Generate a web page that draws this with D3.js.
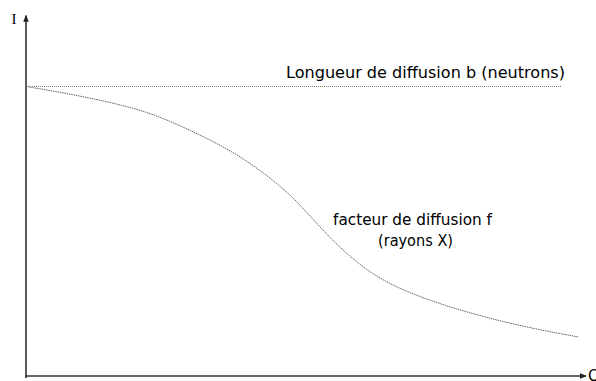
<!DOCTYPE html>
<html>
<head>
<meta charset="utf-8">
<script src="https://cdn.jsdelivr.net/npm/d3@7/dist/d3.min.js"></script>
<style>
  html, body { margin: 0; padding: 0; background: #fff; }
  svg { display: block; }
  .lbl { font-family: "Comic Sans MS", "DejaVu Sans", sans-serif; fill: #000; }
</style>
</head>
<body>
<svg id="chart" width="596" height="381"></svg>
<script>
// Scattering vs. momentum transfer Q (arbitrary units)
const qValues = [0, 0.59, 1.2, 1.79, 2.27, 2.93, 3.64, 4.18, 4.71, 5.07, 5.43, 5.79, 6.14, 6.5, 6.86, 7.39, 7.93, 8.46, 9.18, 9.86];
const formFactorX = [1.0, 0.981, 0.958, 0.932, 0.905, 0.85, 0.781, 0.712, 0.629, 0.553, 0.477, 0.411, 0.359, 0.318, 0.287, 0.249, 0.218, 0.19, 0.159, 0.135];
const neutronQ = [0, 9.57];
const neutronB = [1.0, 1.0];
const axisLabels = ["I", "Q"];
const curveLabels = ["Longueur de diffusion b (neutrons)", "facteur de diffusion f", "(rayons X)"];

const svg = d3.select("#chart");

const x = d3.scaleLinear().domain([0, 10]).range([26, 586]);
const y = d3.scaleLinear().domain([0, 1.24]).range([376, 17]);

// arrow marker for the axes
svg.append("defs").append("marker")
  .attr("id", "arrow")
  .attr("viewBox", "0 0 10 10")
  .attr("refX", 9).attr("refY", 5)
  .attr("markerWidth", 7).attr("markerHeight", 7)
  .attr("markerUnits", "userSpaceOnUse")
  .attr("orient", "auto")
  .append("path")
  .attr("d", "M0,1 L10,5 L0,9 Z")
  .attr("fill", "#222");

// axes
svg.append("line")
  .attr("x1", x(0)).attr("y1", y(0) + 2)
  .attr("x2", x(0)).attr("y2", y(1.245))
  .attr("stroke", "#333").attr("stroke-width", 1.6)
  .attr("marker-end", "url(#arrow)");
svg.append("line")
  .attr("x1", x(0) - 1).attr("y1", y(0))
  .attr("x2", x(10)).attr("y2", y(0))
  .attr("stroke", "#333").attr("stroke-width", 1.6)
  .attr("marker-end", "url(#arrow)");

svg.append("text")
  .attr("x", 14).attr("y", 24)
  .attr("text-anchor", "middle")
  .style("font-family", "'Liberation Serif', 'DejaVu Serif', serif")
  .style("font-size", "15px")
  .text(axisLabels[0]);
svg.append("text").attr("class", "lbl")
  .attr("x", 588).attr("y", 381)
  .style("font-size", "15px")
  .text(axisLabels[1]);

const line = d3.line()
  .x(d => x(d[0]))
  .y(d => y(d[1]));

// neutron scattering length: constant in Q
svg.append("path")
  .datum(d3.zip(neutronQ, neutronB))
  .attr("d", line)
  .attr("fill", "none")
  .attr("stroke", "#777")
  .attr("stroke-width", 1)
  .attr("stroke-dasharray", "1,1");

// X-ray form factor: decays with Q (smoothed through the sampled values)
svg.append("path")
  .datum(d3.zip(qValues, formFactorX))
  .attr("d", line.curve(d3.curveBasis))
  .attr("fill", "none")
  .attr("stroke", "#666")
  .attr("stroke-width", 1)
  .attr("stroke-dasharray", "1.5,0.8");

svg.append("text").attr("class", "lbl")
  .attr("x", 286).attr("y", 78)
  .style("font-size", "15.5px")
  .attr("textLength", 279).attr("lengthAdjust", "spacingAndGlyphs")
  .text(curveLabels[0]);
svg.append("text").attr("class", "lbl")
  .attr("x", 333).attr("y", 225)
  .style("font-size", "15.5px")
  .attr("textLength", 159).attr("lengthAdjust", "spacingAndGlyphs")
  .text(curveLabels[1]);
svg.append("text").attr("class", "lbl")
  .attr("x", 378).attr("y", 246)
  .style("font-size", "15.5px")
  .attr("textLength", 75).attr("lengthAdjust", "spacingAndGlyphs")
  .text(curveLabels[2]);
</script>
</body>
</html>
